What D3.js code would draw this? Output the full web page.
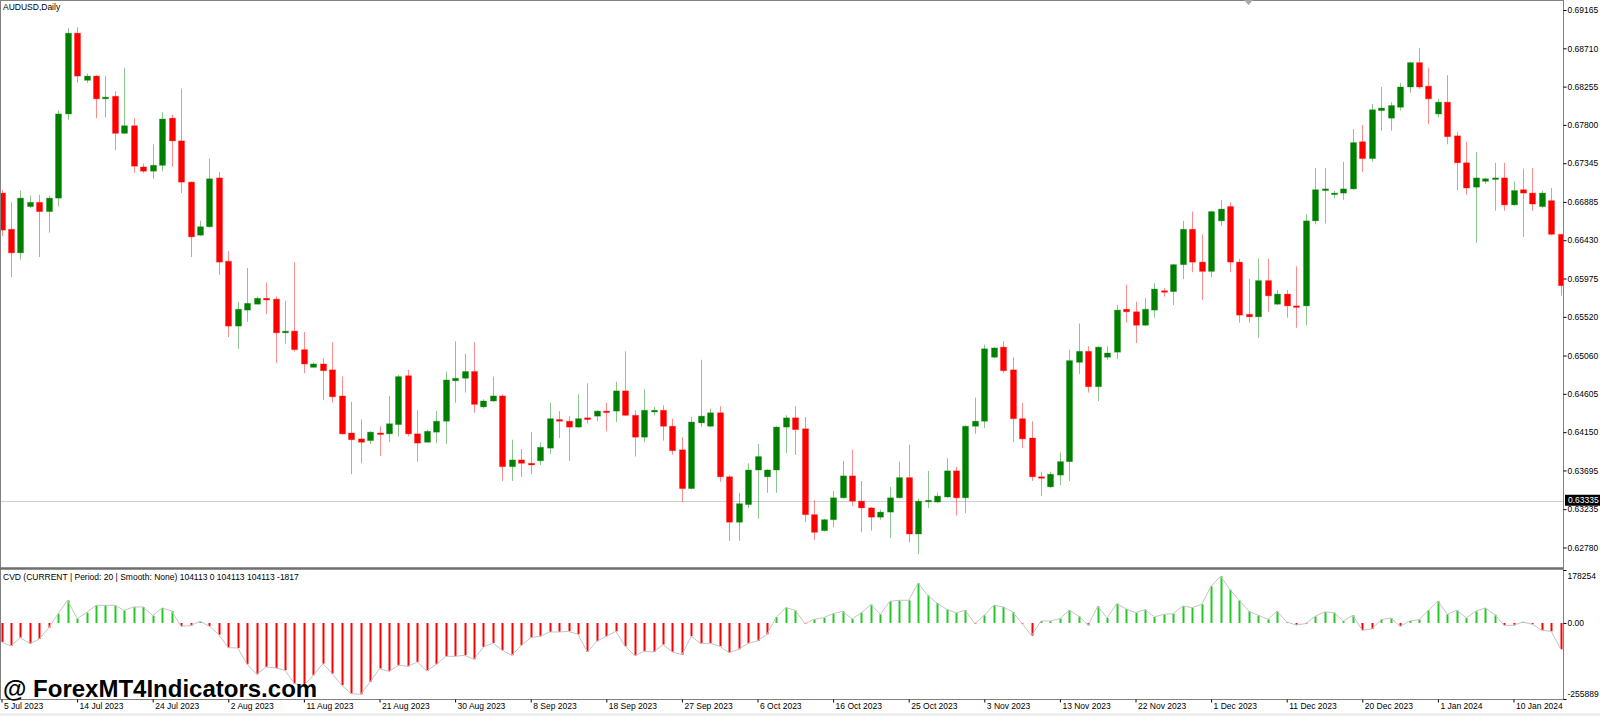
<!DOCTYPE html>
<html>
<head>
<meta charset="utf-8">
<script src="https://cdn.jsdelivr.net/npm/d3@7"></script>
<style>
  html, body { margin: 0; padding: 0; background: #fff; }
  svg { display: block; font-family: "Liberation Sans", Arial, sans-serif; }
</style>
</head>
<body>
<script>
const width = 1600, height = 716
const plotRight = 1563
const mainTop = 1, mainBottom = 567
const subTop = 570, subBottom = 699
const bodyWidth = 6
const labelFont = 8.5

const symbolTitle = "AUDUSD,Daily"
const cvdTitle = "CVD (CURRENT | Period: 20 | Smooth: None) 104113 0 104113 104113 -1817"
const watermark = "@ ForexMT4Indicators.com"

// daily bars (one per trading day incl. Sunday bars)
const open = [
  .6699,.6656,.6628,.6683,.6688,.6677,.6693,.6793,.6889,.6833,.6838,.6811,.6814,.6770,.6779,.6730,.6725,.6732,.6788,.6761,
  .6712,.6649,.6659,.6717,.6618,.6541,.6560,.6567,.6574,.6573,.6533,.6535,.6513,.6492,.6496,.6489,.6458,.6414,.6407,.6405,
  .6414,.6413,.6424,.6482,.6413,.6403,.6415,.6428,.6476,.6479,.6487,.6445,.6452,.6458,.6374,.6382,.6378,.6381,.6396,.6430,
  .6428,.6421,.6432,.6434,.6440,.6440,.6464,.6435,.6409,.6439,.6441,.6422,.6394,.6348,.6426,.6422,.6438,.6362,.6308,.6329,
  .6370,.6362,.6370,.6421,.6432,.6419,.6317,.6298,.6311,.6337,.6363,.6333,.6325,.6314,.6320,.6337,.6361,.6294,.6333,.6332,
  .6338,.6369,.6337,.6422,.6428,.6504,.6516,.6489,.6431,.6408,.6362,.6350,.6364,.6380,.6498,.6511,.6469,.6504,.6510,.6561,
  .6558,.6542,.6560,.6583,.6582,.6614,.6656,.6617,.6606,.6666,.6683,.6617,.6555,.6552,.6595,.6567,.6579,.6565,.6565,.6666,
  .6702,.6698,.6699,.6704,.6760,.6740,.6797,.6788,.6801,.6825,.6854,.6826,.6793,.6807,.6767,.6735,.6706,.6713,.6716,.6717,
  .6685,.6703,.6699,.6683,.6690,.6650
]
const high = [
  .6703,.6688,.6702,.6696,.6697,.6696,.6797,.6895,.6896,.6841,.6839,.6838,.6820,.6848,.6788,.6734,.6757,.6795,.6792,.6823,
  .6713,.6666,.6740,.6724,.6630,.6570,.6610,.6576,.6593,.6576,.6571,.6617,.6534,.6498,.6503,.6522,.6481,.6451,.6430,.6416,
  .6422,.6458,.6483,.6489,.6441,.6418,.6440,.6487,.6523,.6508,.6522,.6454,.6481,.6460,.6406,.6395,.6415,.6403,.6450,.6440,
  .6434,.6460,.6473,.6441,.6450,.6475,.6511,.6441,.6466,.6445,.6447,.6431,.6409,.6433,.6501,.6443,.6446,.6364,.6343,.6378,
  .6401,.6371,.6422,.6435,.6446,.6433,.6334,.6312,.6345,.6381,.6394,.6357,.6326,.6323,.6350,.6380,.6400,.6336,.6369,.6343,
  .6384,.6374,.6423,.6456,.6519,.6516,.6523,.6504,.6450,.6428,.6368,.6368,.6391,.6513,.6544,.6517,.6517,.6517,.6566,.6590,
  .6570,.6574,.6592,.6586,.6615,.6666,.6677,.6650,.6678,.6691,.6688,.6621,.6597,.6621,.6621,.6584,.6584,.6612,.6674,.6729,
  .6729,.6702,.6736,.6775,.6780,.6805,.6825,.6807,.6830,.6855,.6871,.6848,.6811,.6839,.6772,.6760,.6748,.6717,.6735,.6735,
  .6713,.6728,.6729,.6702,.6705,.6650
]
const low = [
  .6648,.6599,.6620,.6681,.6623,.6652,.6683,.6786,.6830,.6830,.6788,.6789,.6750,.6769,.6723,.6723,.6716,.6725,.6730,.6699,
  .6623,.6648,.6658,.6602,.6528,.6514,.6546,.6567,.6555,.6497,.6520,.6511,.6485,.6492,.6453,.6450,.6412,.6365,.6378,.6401,
  .6387,.6403,.6410,.6410,.6380,.6403,.6402,.6401,.6450,.6462,.6438,.6443,.6451,.6357,.6357,.6362,.6365,.6376,.6389,.6408,
  .6381,.6420,.6425,.6428,.6416,.6427,.6434,.6386,.6403,.6435,.6405,.6388,.6332,.6347,.6421,.6421,.6356,.6286,.6286,.6325,
  .6312,.6343,.6343,.6390,.6388,.6308,.6287,.6297,.6302,.6336,.6327,.6296,.6298,.6311,.6289,.6336,.6284,.6270,.6325,.6331,
  .6337,.6316,.6319,.6413,.6420,.6503,.6485,.6403,.6396,.6357,.6339,.6349,.6352,.6357,.6484,.6462,.6452,.6501,.6502,.6545,
  .6521,.6541,.6551,.6576,.6566,.6597,.6605,.6572,.6599,.6660,.6605,.6545,.6545,.6527,.6558,.6566,.6551,.6539,.6542,.6662,
  .6663,.6693,.6691,.6703,.6724,.6736,.6773,.6773,.6797,.6818,.6823,.6781,.6789,.6757,.6702,.6697,.6640,.6710,.6678,.6678,
  .6684,.6647,.6678,.6681,.6649,.6577
]
const close = [
  .6655,.6628,.6693,.6688,.6677,.6693,.6793,.6889,.6838,.6838,.6811,.6813,.6770,.6779,.6731,.6725,.6732,.6787,.6761,.6712,
  .6647,.6659,.6716,.6617,.6541,.6561,.6568,.6574,.6572,.6533,.6535,.6513,.6496,.6496,.6488,.6457,.6413,.6406,.6403,.6415,
  .6413,.6425,.6481,.6413,.6402,.6416,.6428,.6477,.6479,.6487,.6448,.6452,.6458,.6374,.6382,.6378,.6376,.6397,.6431,.6428,
  .6421,.6431,.6430,.6440,.6439,.6464,.6435,.6409,.6441,.6441,.6422,.6393,.6348,.6427,.6434,.6438,.6362,.6308,.6330,.6370,
  .6386,.6370,.6421,.6432,.6418,.6317,.6296,.6311,.6337,.6363,.6333,.6325,.6314,.6320,.6337,.6361,.6294,.6333,.6334,.6339,
  .6369,.6337,.6422,.6428,.6514,.6515,.6488,.6431,.6407,.6362,.6361,.6365,.6380,.6500,.6511,.6469,.6516,.6509,.6560,.6558,
  .6542,.6561,.6585,.6582,.6614,.6656,.6617,.6606,.6677,.6680,.6617,.6554,.6552,.6595,.6577,.6579,.6565,.6564,.6666,.6703,
  .6704,.6699,.6704,.6759,.6740,.6798,.6800,.6803,.6825,.6854,.6825,.6811,.6807,.6766,.6735,.6705,.6717,.6716,.6717,.6685,
  .6702,.6699,.6686,.6699,.6650,.6589
]

// CVD histogram, one value per bar
const cvd = [
  -64000,-77400,-49400,-69600,-53900,-15700,31400,76300,14600,34800,59500,59500,59500,42600,53900,53900,24700,50500,40400,-11200,
  -9000,5600,-11200,-39300,-83000,-84200,-139100,-172800,-148100,-151500,-159300,-204200,-209800,-176200,-136900,-170500,-209800,-237900,-240100,-198600,
  -153700,-162700,-142500,-145900,-131300,-161600,-139100,-112200,-112200,-108800,-122300,-80800,-67300,-92000,-108800,-75200,-49400,-44900,-30300,-30300,
  -28100,-38100,-97600,-61700,-44900,-28100,-78500,-110000,-95400,-97600,-72900,-97600,-106600,-44900,-69600,-68400,-78500,-99900,-88600,-68400,
  -60600,-38100,20200,51600,42600,-2200,12300,18000,31400,39300,13500,34800,61700,29200,72900,76300,76300,134600,93100,67300,
  46000,33700,42600,-2200,25800,59500,53900,37000,-2200,-42600,6700,6700,14600,42600,22400,-7900,56100,16800,65100,47100,
  34800,44900,20200,29200,31400,57200,51600,62800,123400,157100,112200,76300,39300,25800,12300,39300,3400,-6700,-2200,22400,
  37000,34800,6700,25800,-24700,-20200,11200,16800,-11200,6700,11200,42600,74100,29200,42600,16800,39300,50500,28100,-7900,
  -7900,3400,-4500,-24700,-28100,-88600
]

const priceTicks = [0.69165, 0.68710, 0.68255, 0.67800, 0.67345, 0.66885, 0.66430, 0.65975,
                    0.65520, 0.65060, 0.64605, 0.64150, 0.63695, 0.63235, 0.62780]
const currentPrice = 0.63335
const cvdTicks = [178254, 0, -255889]
const cvdTickLabels = ["178254", "0.00", "-255889"]
const dateTickIdx = [0, 8, 16, 24, 32, 40, 48, 56, 64, 72, 80, 88, 96, 104, 112, 120, 128, 136, 144, 152, 160]
const dateTickLabels = ["5 Jul 2023", "14 Jul 2023", "24 Jul 2023", "2 Aug 2023", "11 Aug 2023", "21 Aug 2023",
  "30 Aug 2023", "8 Sep 2023", "18 Sep 2023", "27 Sep 2023", "6 Oct 2023", "16 Oct 2023", "25 Oct 2023",
  "3 Nov 2023", "13 Nov 2023", "22 Nov 2023", "1 Dec 2023", "11 Dec 2023", "20 Dec 2023", "1 Jan 2024", "10 Jan 2024"]

const bullColor = "#008000", bearColor = "#ff0000"
const cvdUp = "#22c922", cvdDown = "#ff0000"
const axisColor = "#808080"

const x = d3.scaleLinear([0, open.length - 1], [1.5, 1560.75])
const y = d3.scaleLinear([0.62548, 0.69272], [mainBottom, mainTop])
const yc = d3.scaleLinear([-255889, 178254], [subBottom, subTop])

const svg = d3.select("body").append("svg")
    .attr("width", width)
    .attr("height", height)

svg.append("rect").attr("width", width).attr("height", height).attr("fill", "#fff")

svg.append("defs").append("clipPath").attr("id", "plot")
  .append("rect").attr("x", 0).attr("y", 0).attr("width", plotRight).attr("height", subBottom)

const bars = d3.range(open.length).map(i => ({
  i, o: open[i], h: high[i], l: low[i], c: close[i], up: close[i] >= open[i]
}))

// current price line sits behind the candles
svg.append("line")
    .attr("x1", 0).attr("x2", plotRight)
    .attr("y1", Math.round(y(currentPrice)) + 0.5).attr("y2", Math.round(y(currentPrice)) + 0.5)
    .attr("stroke", "#cfcfcf")

const candles = svg.append("g").attr("clip-path", "url(#plot)")

candles.selectAll("line.wick")
  .data(bars)
  .join("line")
    .attr("class", "wick")
    .attr("x1", d => Math.round(x(d.i)) + 0.5)
    .attr("x2", d => Math.round(x(d.i)) + 0.5)
    .attr("y1", d => y(d.h))
    .attr("y2", d => y(d.l))
    .attr("stroke", d => d.up ? bullColor : bearColor)
    .attr("stroke-opacity", 0.45)

candles.selectAll("rect.body")
  .data(bars)
  .join("rect")
    .attr("class", "body")
    .attr("x", d => Math.round(x(d.i)) + 0.5 - bodyWidth / 2)
    .attr("width", bodyWidth)
    .attr("y", d => y(Math.max(d.o, d.c)))
    .attr("height", d => Math.max(1.5, Math.abs(y(d.o) - y(d.c))))
    .attr("fill", d => d.up ? bullColor : bearColor)
    .attr("stroke", d => d.up ? bullColor : bearColor)
    .attr("stroke-opacity", 0.3)
    .attr("stroke-width", 1)

// CVD sub window
const sub = svg.append("g").attr("clip-path", "url(#plot)")

sub.selectAll("line.hist")
  .data(cvd)
  .join("line")
    .attr("class", "hist")
    .attr("x1", (d, i) => Math.round(x(i)) + 0.5)
    .attr("x2", (d, i) => Math.round(x(i)) + 0.5)
    .attr("y1", yc(0))
    .attr("y2", d => yc(d))
    .attr("stroke", d => d >= 0 ? cvdUp : cvdDown)
    .attr("stroke-width", 2)

sub.append("path")
    .datum(cvd)
    .attr("fill", "none")
    .attr("stroke", "#c4c4c4")
    .attr("stroke-width", 1)
    .attr("d", d3.line((d, i) => x(i), d => yc(d)))

// frame and separators
const frame = svg.append("g").attr("stroke", axisColor).attr("fill", "none")
frame.append("line").attr("x1", 0.5).attr("x2", 0.5).attr("y1", 0).attr("y2", subBottom)
frame.append("line").attr("x1", 0).attr("x2", plotRight).attr("y1", 0.5).attr("y2", 0.5)
frame.append("line").attr("x1", 0).attr("x2", plotRight + 1).attr("y1", 568.5).attr("y2", 568.5)
  .attr("stroke-width", 2.5).attr("stroke", "#6f6f6f")
frame.append("line").attr("x1", plotRight + 0.5).attr("x2", plotRight + 0.5).attr("y1", 0).attr("y2", subBottom + 1)
frame.append("line").attr("x1", 0).attr("x2", plotRight + 1).attr("y1", subBottom + 0.5).attr("y2", subBottom + 0.5)

// chart shift marker
svg.append("path")
    .attr("d", d3.line()([[1244, 0], [1253, 0], [1248.5, 5]]))
    .attr("fill", "#a8a8a8")

// price axis
const priceAxis = svg.append("g")
    .attr("transform", `translate(${plotRight + 0.5},0)`)
    .call(d3.axisRight(y).tickValues(priceTicks).tickFormat(d3.format(".5f")).tickSize(3).tickSizeOuter(0))
priceAxis.select(".domain").remove()
priceAxis.selectAll(".tick line").attr("stroke", "#000")
priceAxis.selectAll(".tick text")
    .attr("x", 4)
    .style("font-size", `${labelFont}px`)
    .attr("fill", "#000")

// current price tag
const tag = svg.append("g").attr("transform", `translate(${plotRight + 1},${y(currentPrice)})`)
tag.append("rect").attr("x", 1).attr("y", -6).attr("width", width - plotRight - 2).attr("height", 11).attr("fill", "#000")
tag.append("text").attr("x", 4).attr("dy", "0.32em").attr("fill", "#fff")
    .style("font-size", `${labelFont}px`).text(d3.format(".5f")(currentPrice))

// CVD axis
const cvdAxis = svg.append("g")
    .attr("transform", `translate(${plotRight + 0.5},0)`)
    .call(d3.axisRight(yc).tickValues(cvdTicks).tickFormat((d, i) => cvdTickLabels[i]).tickSize(3).tickSizeOuter(0))
cvdAxis.select(".domain").remove()
cvdAxis.selectAll(".tick line").attr("stroke", "#000")
cvdAxis.selectAll(".tick text")
    .attr("x", 4)
    .attr("dy", (d, i) => i === 0 ? "1.0em" : i === 2 ? "-0.3em" : "0.32em")
    .style("font-size", `${labelFont}px`)
    .attr("fill", "#000")

// time axis
const timeAxis = svg.append("g")
    .attr("transform", `translate(0,${subBottom + 0.5})`)
    .call(d3.axisBottom(x).tickValues(dateTickIdx).tickFormat((d, i) => dateTickLabels[i]).tickSize(3).tickSizeOuter(0))
timeAxis.select(".domain").remove()
timeAxis.selectAll(".tick line").attr("stroke", "#000")
timeAxis.selectAll(".tick text")
    .attr("text-anchor", "start")
    .attr("x", 2)
    .attr("y", 3)
    .style("font-size", `${labelFont}px`)
    .attr("fill", "#000")

svg.append("rect").attr("x", 0).attr("y", 713).attr("width", width).attr("height", 3).attr("fill", "#efefef")

// titles
svg.append("text").attr("x", 3).attr("y", 10).style("font-size", `${labelFont}px`).text(symbolTitle)
svg.append("text").attr("x", 3).attr("y", 580).style("font-size", `${labelFont}px`).text(cvdTitle)

svg.append("text")
    .attr("x", 3).attr("y", 697)
    .style("font-size", "24px")
    .style("font-weight", "bold")
    .attr("fill", "#000")
    .text(watermark)
</script>
</body>
</html>
